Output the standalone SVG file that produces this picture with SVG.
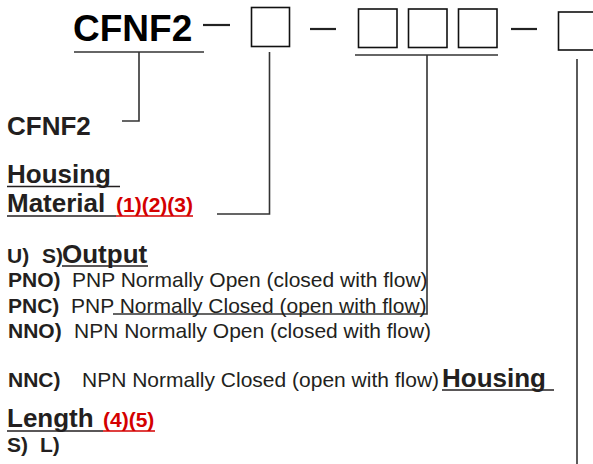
<svg xmlns="http://www.w3.org/2000/svg" width="593" height="464" viewBox="0 0 593 464">
<style>
text{font-family:"Liberation Sans",Arial,sans-serif;fill:#231f20}
.big{font-size:37px;font-weight:bold;fill:#000}
.h{font-size:26px;font-weight:bold}
.lb{font-size:21px;font-weight:bold}
.tx{font-size:21px}
.red{font-size:21px;font-weight:bold;fill:#d40000}
.box{fill:#fff;stroke:#111;stroke-width:1.6}
.dash{stroke:#222;stroke-width:2.2}
.ln{stroke:#333;stroke-width:1.6;fill:none}
.ul{stroke:#231f20;stroke-width:1.6}
.ulr{stroke:#d40000;stroke-width:1.6}
</style>
<rect width="593" height="464" fill="#fff"/>
<g id="code">
<text class="big" x="73" y="41">CFNF2</text>
<line class="dash" x1="203" y1="25" x2="230" y2="25"/>
<rect class="box" x="251.5" y="7.5" width="38" height="39"/>
<line class="dash" x1="310" y1="29" x2="336" y2="29"/>
<rect class="box" x="358.5" y="9" width="38.5" height="38.5"/>
<rect class="box" x="408.5" y="9" width="38.5" height="38.5"/>
<rect class="box" x="458.5" y="9" width="38.5" height="38.5"/>
<line class="dash" x1="511" y1="29" x2="537" y2="29"/>
<rect class="box" x="558.5" y="12" width="39" height="38"/>
</g>
<g id="connectors">
<polyline class="ln" points="74,52 204,52"/>
<polyline class="ln" points="139,52 139,121 122,121"/>
<polyline class="ln" points="269.5,52 269.5,214 217,214"/>
<polyline class="ln" points="355,55 498,55"/>
<polyline class="ln" points="427,55 427,314 113,314"/>
<polyline class="ln" points="577,59 577,464"/>
</g>
<g id="n-model">
<text class="h" x="7" y="135">CFNF2</text>
</g>
<g id="n-housing-material">
<text class="h" x="7" y="183">Housing</text>
<line class="ul" x1="7" y1="186.5" x2="120" y2="186.5"/>
<text class="h" x="7" y="212">Material</text>
<line class="ul" x1="7" y1="216" x2="116" y2="216"/>
<text class="red" x="116" y="212">(1)(2)(3)</text>
<line class="ulr" x1="116" y1="216" x2="193" y2="216"/>
</g>
<g id="n-output">
<text class="lb" x="7" y="263">U)</text>
<text class="lb" x="42" y="263">S)</text>
<text class="h" x="62" y="263">Output</text>
<line class="ul" x1="62" y1="266" x2="148" y2="266"/>
<text class="lb" x="8" y="287">PNO)</text>
<text class="tx" x="72" y="287">PNP Normally Open (closed with flow)</text>
<text class="lb" x="8" y="313">PNC)</text>
<text class="tx" x="71" y="313">PNP Normally Closed (open with flow)</text>
<text class="lb" x="8" y="338">NNO)</text>
<text class="tx" x="74" y="338">NPN Normally Open (closed with flow)</text>
<text class="lb" x="8" y="387">NNC)</text>
<text class="tx" x="82" y="387">NPN Normally Closed (open with flow)</text>
</g>
<g id="n-housing-length">
<text class="h" x="442" y="387">Housing</text>
<line class="ul" x1="442" y1="390" x2="554" y2="390"/>
<text class="h" x="7" y="427">Length</text>
<line class="ul" x1="7" y1="431" x2="103" y2="431"/>
<text class="red" x="103" y="427">(4)(5)</text>
<line class="ulr" x1="103" y1="431" x2="155" y2="431"/>
<text class="lb" x="7" y="452">S)</text>
<text class="lb" x="40" y="452">L)</text>
</g>
</svg>
